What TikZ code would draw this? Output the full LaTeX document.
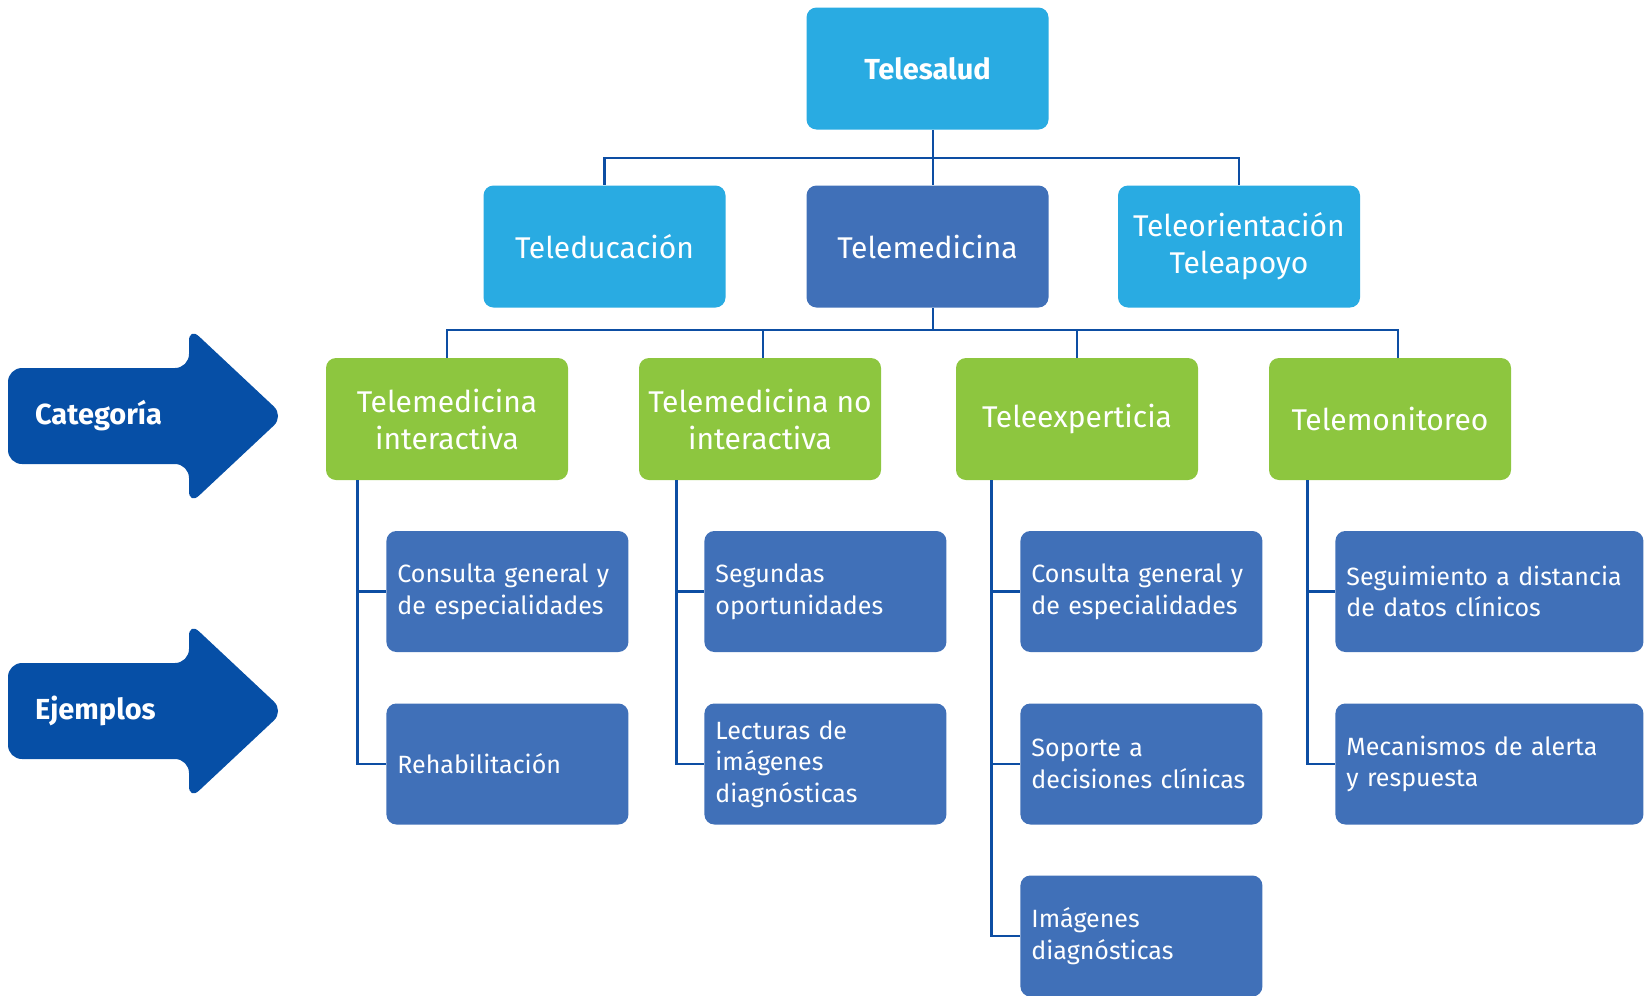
\documentclass[tikz,border=0pt]{standalone}
\usepackage{fontspec}
\setmainfont{Fira Sans}
\usetikzlibrary{positioning}

\definecolor{celeste}{HTML}{29ABE2}
\definecolor{azulcaja}{HTML}{4070B8}
\definecolor{verde}{HTML}{8DC63F}
\definecolor{azulflecha}{HTML}{064FA6}
\definecolor{linea}{HTML}{0D4EA3}
\hyphenpenalty=10000

\begin{document}
\begin{tikzpicture}[x=0.5pt,y=-0.5pt,
    caja/.style={rounded corners=5pt, text=white, align=center, inner sep=2pt,
      minimum width=121pt, minimum height=61pt, font=\fontsize{15}{18.5}\selectfont},
    raiz/.style={caja, fill=celeste, font=\fontsize{14.5}{17}\selectfont\bfseries},
    servicio/.style={caja, fill=celeste},
    central/.style={caja, fill=azulcaja},
    categoria/.style={caja, fill=verde},
    ejemplo/.style={rounded corners=5pt, fill=azulcaja, text=white, align=left, anchor=west,
      inner xsep=5.5pt, inner ysep=2pt, text width=110pt, minimum height=60.5pt,
      font=\fontsize{12.5}{15.8}\selectfont},
    ancho/.style={text width=143pt},
    conector/.style={draw=linea, line width=1.4pt},
    flecha/.style={fill=azulflecha, rounded corners=7pt},
    rotulo/.style={text=white, anchor=west, font=\fontsize{14.5}{17}\selectfont\bfseries}
  ]
  \useasboundingbox (0,0) rectangle (1644,996);

  %Level 0 and 1
  \node[raiz] (salud) at (927.5,68.5) {Telesalud};
  \node[servicio] (edu) at (604.5,246.5) {Teleducación};
  \node[central] (med) at (927.5,246.5) {Telemedicina};
  \node[servicio] (orient) at (1239,246.5) {Teleorientación\\Teleapoyo};

  %Categories
  \node[categoria] (inter) at (447,419) {Telemedicina\\interactiva};
  \node[categoria] (nointer) at (760,419) {Telemedicina no\\interactiva};
  \node[categoria] (exper) at (1077,419) {Teleexperticia};
  \node[categoria] (monit) at (1390,419) {Telemonitoreo};

  %Examples
  \node[ejemplo] (consA) at (386,591.5) {Consulta general y\\de especialidades};
  \node[ejemplo] (rehab) at (386,764) {Rehabilitación};
  \node[ejemplo] (segund) at (704,591.5) {Segundas\\oportunidades};
  \node[ejemplo] (lect) at (704,764) {Lecturas de\\imágenes\\diagnósticas};
  \node[ejemplo] (consB) at (1020,591.5) {Consulta general y\\de especialidades};
  \node[ejemplo] (soporte) at (1020,764) {Soporte a\\decisiones clínicas};
  \node[ejemplo] (imag) at (1020,936) {Imágenes\\diagnósticas};
  \node[ejemplo, ancho] (seguim) at (1335,591.5) {Seguimiento a distancia\\de datos clínicos};
  \node[ejemplo, ancho] (alerta) at (1335,764) {Mecanismos de alerta\\y respuesta};

  %Buses
  \coordinate (bus1) at (933,158);
  \coordinate (bus2) at (933,330);
  \draw[conector] (bus1 |- salud.south) -- (bus1) -- (bus1 |- med.north);
  \draw[conector] (bus1) -| (edu.north);
  \draw[conector] (bus1) -| (orient.north);
  \draw[conector] (bus1 |- med.south) -- (bus2);
  \draw[conector] (bus2) -| (inter.north);
  \draw[conector] (bus2) -| ([xshift=1.5pt]nointer.north);
  \draw[conector] (bus2) -| (exper.north);
  \draw[conector] (bus2) -| ([xshift=4pt]monit.north);

  %Example branches
  \draw[conector] ([xshift=16pt]inter.south west) |- (consA.west);
  \draw[conector] ([xshift=16pt]inter.south west) |- (rehab.west);
  \draw[conector] ([xshift=19pt]nointer.south west) |- (segund.west);
  \draw[conector] ([xshift=19pt]nointer.south west) |- (lect.west);
  \draw[conector] ([xshift=18pt]exper.south west) |- (consB.west);
  \draw[conector] ([xshift=18pt]exper.south west) |- (soporte.west);
  \draw[conector] ([xshift=18pt]exper.south west) |- (imag.west);
  \draw[conector] ([xshift=19.5pt]monit.south west) |- (seguim.west);
  \draw[conector] ([xshift=19.5pt]monit.south west) |- (alerta.west);

  %Side arrows
  \fill[flecha] (8,368) -- (189,368) -- (189,327) -- (284,416) -- (189,505) -- (189,464) -- (8,464) -- cycle;
  \node[rotulo] (cat) at (28,416) {Categoría};
  \fill[flecha] (8,663) -- (189,663) -- (189,622) -- (284,711) -- (189,800) -- (189,759) -- (8,759) -- cycle;
  \node[rotulo] (ejem) at (28,711) {Ejemplos};
\end{tikzpicture}
\end{document}
